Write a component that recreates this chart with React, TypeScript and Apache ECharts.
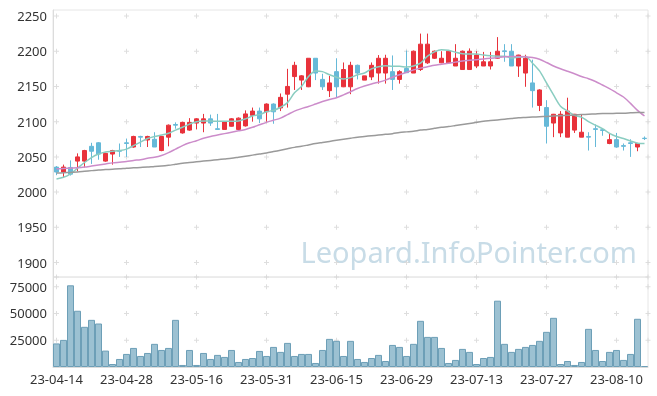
import React, { useEffect, useRef } from 'react';
import * as echarts from 'echarts';

const dates = [
  '23-04-14', '23-04-17', '23-04-18', '23-04-19', '23-04-20', '23-04-21', '23-04-24', '23-04-25', '23-04-26', '23-04-27',
  '23-04-28', '23-05-02', '23-05-03', '23-05-04', '23-05-08', '23-05-09', '23-05-10', '23-05-11', '23-05-12', '23-05-15',
  '23-05-16', '23-05-17', '23-05-18', '23-05-19', '23-05-22', '23-05-23', '23-05-24', '23-05-25', '23-05-26', '23-05-30',
  '23-05-31', '23-06-01', '23-06-02', '23-06-05', '23-06-07', '23-06-08', '23-06-09', '23-06-12', '23-06-13', '23-06-14',
  '23-06-15', '23-06-16', '23-06-19', '23-06-20', '23-06-21', '23-06-22', '23-06-23', '23-06-26', '23-06-27', '23-06-28',
  '23-06-29', '23-06-30', '23-07-03', '23-07-04', '23-07-05', '23-07-06', '23-07-07', '23-07-10', '23-07-11', '23-07-12',
  '23-07-13', '23-07-14', '23-07-17', '23-07-18', '23-07-19', '23-07-20', '23-07-21', '23-07-24', '23-07-25', '23-07-26',
  '23-07-27', '23-07-28', '23-07-31', '23-08-01', '23-08-02', '23-08-03', '23-08-04', '23-08-07', '23-08-08', '23-08-09',
  '23-08-10', '23-08-11', '23-08-14', '23-08-16', '23-08-17',
];

const opens = [
  2035.5, 2028.5, 2035, 2044, 2044, 2065, 2070, 2044, 2054, 2059,
  2070, 2064, 2079, 2074, 2075, 2059, 2078, 2096, 2084, 2088,
  2098, 2098, 2104, 2090, 2089, 2093.5, 2089, 2094, 2109, 2115,
  2114, 2125, 2119.5, 2139, 2164, 2159, 2149.5, 2190, 2160, 2144,
  2171, 2149.5, 2149.5, 2180, 2159, 2163.5, 2169, 2169, 2171, 2160,
  2175.5, 2169, 2174, 2183.5, 2190, 2183.5, 2183.5, 2179, 2174, 2174,
  2179, 2179, 2179, 2190, 2200.5, 2200, 2179, 2169, 2155, 2123,
  2120, 2098, 2084, 2078, 2088, 2078, 2079, 2090, 2088.5, 2069,
  2074.5, 2066, 2070, 2064, 2076.5,
];
const closes = [
  2028.5, 2035.5, 2025.5, 2050, 2059, 2058, 2054, 2055, 2059, 2058,
  2069, 2079, 2078, 2079, 2064, 2079, 2095, 2095, 2099, 2099,
  2104, 2104, 2098, 2089, 2099.5, 2104, 2105, 2111, 2115, 2104,
  2125, 2114, 2134.5, 2150, 2180, 2165, 2190, 2169, 2149.5, 2155,
  2149.5, 2174, 2180, 2169, 2165, 2180, 2190, 2190, 2160, 2171,
  2169.5, 2200, 2210, 2210, 2200, 2190, 2200, 2190, 2200, 2200,
  2194.5, 2185, 2185, 2200, 2199.5, 2179, 2194.5, 2190, 2144, 2145,
  2093.5, 2110.5, 2110.5, 2115, 2110.5, 2085, 2078, 2089, 2087.5, 2074.5,
  2064, 2065, 2069, 2069, 2076,
];
const lows = [
  2024, 2020, 2023.5, 2029.5, 2035, 2040, 2046, 2043, 2039, 2050,
  2050, 2063, 2064, 2064, 2064, 2058, 2065, 2090, 2083, 2087,
  2089, 2085, 2094, 2089, 2089, 2093, 2088, 2093, 2100, 2098,
  2100, 2097, 2115, 2120, 2145, 2145, 2149, 2159, 2145, 2135,
  2134, 2149, 2139, 2160, 2159, 2159, 2154, 2154, 2145, 2154,
  2169, 2169, 2172, 2182, 2189, 2183, 2183, 2179, 2174, 2174,
  2176, 2179, 2174, 2189, 2185, 2179, 2163.5, 2149.5, 2120, 2115,
  2069, 2078, 2078, 2078, 2084, 2078, 2059, 2064, 2080, 2068,
  2063, 2059, 2050, 2058, 2074,
];
const highs = [
  2037, 2039, 2045, 2055, 2060, 2070, 2071, 2056, 2060, 2069,
  2076, 2080, 2080, 2080, 2085, 2080, 2096, 2099, 2100, 2105,
  2105, 2111, 2110, 2111, 2100, 2105, 2106, 2116, 2120, 2120,
  2126, 2126, 2140, 2175, 2185, 2166, 2190, 2190, 2168, 2165,
  2190, 2184, 2185, 2181, 2165, 2184, 2194.5, 2195, 2194, 2173,
  2201, 2201, 2225, 2225, 2201, 2200, 2201, 2210, 2201, 2204,
  2200, 2199, 2199, 2220, 2210, 2210, 2195, 2195, 2188, 2146,
  2130.5, 2111, 2115, 2134, 2111, 2110.5, 2085, 2096, 2091, 2084,
  2084, 2069, 2075, 2070, 2079,
];

const ma5 = [
  2018.5, 2021, 2026, 2034, 2042, 2049, 2054, 2057, 2058, 2059,
  2061, 2066, 2071, 2076, 2079, 2081, 2083.5, 2088, 2092, 2096.5,
  2100, 2101, 2101, 2100.5, 2100.5, 2100.5, 2101, 2104, 2108, 2110,
  2114, 2116, 2120.5, 2127, 2141, 2150, 2164, 2172, 2171, 2166.5,
  2163, 2160.5, 2162.5, 2166.5, 2169, 2175, 2178, 2179.5, 2178.5, 2178.5,
  2177.5, 2179, 2183, 2193, 2199, 2202, 2201.5, 2198.5, 2196.5, 2196,
  2196, 2194.5, 2193.5, 2193, 2193, 2190.5, 2191.5, 2192.5, 2183, 2172,
  2155, 2138, 2122, 2115, 2109, 2106.5, 2100, 2095, 2090, 2083.5,
  2079, 2076, 2072.5, 2069.5, 2069,
];
const ma20 = [
  2033, 2033.5, 2034, 2034.5, 2035.5, 2037, 2038.5, 2040, 2041.5, 2042.5,
  2043.5, 2045, 2046, 2048, 2049.5, 2052, 2056, 2061, 2066, 2070,
  2073, 2076.5, 2079, 2081, 2083, 2085, 2087, 2089, 2092, 2095.5,
  2099, 2102, 2105, 2110, 2115, 2118.5, 2121.5, 2125, 2128.5, 2131.5,
  2134, 2138, 2142.5, 2147, 2150.5, 2153.5, 2156, 2159, 2163, 2166.5,
  2170, 2173.5, 2176, 2178, 2180, 2181.5, 2183, 2184.5, 2186, 2187,
  2188, 2189, 2190, 2191, 2192, 2192.5, 2192.5, 2192, 2191, 2188.5,
  2184, 2179, 2175, 2171.5, 2168, 2164, 2161, 2157, 2152, 2147,
  2141, 2135, 2126, 2116, 2108,
];
const ma60 = [
  2027, 2027.5, 2028, 2028.5, 2029.5, 2030.5, 2031.5, 2032, 2032.5, 2033,
  2034, 2034.5, 2035, 2035.5, 2036.5, 2037, 2038, 2039.5, 2041, 2042,
  2043, 2044, 2045, 2046, 2047, 2048, 2049.5, 2051, 2052.5, 2054,
  2055.5, 2057.5, 2059.5, 2061.5, 2063.5, 2065, 2067, 2069, 2070.5, 2072,
  2073.5, 2075, 2076.5, 2078, 2079, 2080, 2081, 2082, 2083, 2084.5,
  2085.5, 2086.5, 2088, 2089, 2090.5, 2092, 2093, 2094.5, 2096, 2097.5,
  2099, 2100.5, 2101.5, 2102.5, 2103.5, 2104.5, 2105.5, 2106, 2106.5, 2107,
  2107.5, 2108, 2108.5, 2109, 2109.5, 2110, 2110.5, 2111, 2111.5, 2111.5,
  2112, 2112, 2112.5, 2113, 2113,
];

const volumes = [
  22000, 25300, 76250, 52500, 37500, 44000, 40600, 15300, 2800, 7500,
  12200, 17800, 10300, 13100, 21600, 15900, 17800, 44000, 1900, 15900,
  1900, 13100, 7500, 11300, 9400, 15900, 4700, 7500, 8400, 15000,
  10300, 18750, 14100, 22500, 10300, 12200, 12200, 3750, 15900, 26250,
  24400, 10300, 24400, 7500, 4700, 8400, 11300, 5600, 20600, 18750,
  10300, 21600, 43100, 28100, 28100, 17800, 3750, 6600, 16900, 14100,
  2800, 8400, 9400, 61900, 21600, 14100, 16900, 18750, 20600, 24400,
  32800, 45900, 2800, 5600, 1900, 4700, 35600, 15900, 5600, 14100,
  15900, 6600, 12200, 45000, 900,
];

// axis extents and tick values
const priceMin = 1879.5;
const priceMax = 2258.5;
const priceTicks = [1900, 1950, 2000, 2050, 2100, 2150, 2200, 2250];
const volMax = 84000;
const volTicks = [25000, 50000, 75000, 84000];
// cross marks positions in category-index space (centers of labelled categories, plus right edge)
const crossCols = [0.5, 10.5, 20.5, 30.5, 40.5, 50.5, 60.5, 70.5, 80.5, 85];

const FONT = '"Noto Sans", "Open Sans", sans-serif';

export default function App() {
  const ref = useRef<HTMLDivElement>(null);
  useEffect(() => {
    if (!ref.current) return;
    const chart = echarts.init(ref.current, null, { renderer: 'svg' });
    const candleData = dates.map((_, i) => [opens[i], closes[i], lows[i], highs[i]]);
    const crossUpper: number[][] = [];
    crossCols.forEach((c) => priceTicks.forEach((t) => crossUpper.push([c, t])));
    const crossLower: number[][] = [];
    crossCols.forEach((c) => volTicks.forEach((t) => crossLower.push([c, t])));
    const crossSymbol = 'path://M2,0H3V5H2ZM0,2H5V3H0Z';
    const n = dates.length;
    const plain = (v: number) => String(v);

    chart.setOption({
      animation: false,
      textStyle: { fontFamily: FONT },
      grid: [
        { left: 53, right: 9, top: 10, height: 267, show: true, borderColor: '#e6e6e6', borderWidth: 1, backgroundColor: 'transparent' },
        { left: 53, right: 9, top: 277, height: 90, show: true, borderColor: '#e6e6e6', borderWidth: 1, backgroundColor: 'transparent' },
      ],
      graphic: [
        {
          type: 'text',
          z: 0,
          silent: true,
          x: 637,
          y: 251,
          style: {
            text: 'Leopard.InfoPointer.com',
            fontSize: 29,
            fontFamily: FONT,
            fill: '#c8dce7',
            align: 'right',
            verticalAlign: 'middle',
          },
        },
      ],
      xAxis: [
        {
          type: 'category', gridIndex: 0, data: dates, boundaryGap: true,
          axisLabel: { show: false }, axisTick: { show: false }, axisLine: { show: false }, splitLine: { show: false },
        },
        {
          type: 'category', gridIndex: 1, data: dates, boundaryGap: true,
          axisLabel: { interval: 9, fontSize: 13, color: '#333', margin: 5, fontFamily: FONT },
          axisTick: { show: false },
          axisLine: { show: true, lineStyle: { color: '#dcdcdc' } },
          splitLine: { show: false },
        },
        { type: 'value', gridIndex: 0, min: 0, max: n, show: false },
        { type: 'value', gridIndex: 1, min: 0, max: n, show: false },
      ],
      yAxis: [
        {
          type: 'value', gridIndex: 0, min: priceMin, max: priceMax, splitNumber: 8, scale: true,
          axisLabel: { fontSize: 13, color: '#333', margin: 6, showMinLabel: false, showMaxLabel: false, fontFamily: FONT, formatter: plain },
          axisTick: { show: false },
          axisLine: { show: true, lineStyle: { color: '#dcdcdc' } },
          splitLine: { show: false },
        },
        {
          type: 'value', gridIndex: 1, min: 0, max: volMax, interval: 25000,
          axisLabel: { fontSize: 13, color: '#333', margin: 6, showMinLabel: false, showMaxLabel: false, fontFamily: FONT, formatter: plain },
          axisTick: { show: false },
          axisLine: { show: true, lineStyle: { color: '#dcdcdc' } },
          splitLine: { show: false },
        },
      ],
      series: [
        {
          type: 'scatter', xAxisIndex: 2, yAxisIndex: 0, data: crossUpper, symbol: crossSymbol, symbolSize: 5,
          itemStyle: { color: '#d6d6d6' }, silent: true, z: 1,
        },
        {
          type: 'scatter', xAxisIndex: 3, yAxisIndex: 1, data: crossLower, symbol: crossSymbol, symbolSize: 5,
          itemStyle: { color: '#d6d6d6' }, silent: true, z: 1,
        },
        {
          type: 'candlestick', name: 'price', xAxisIndex: 0, yAxisIndex: 0, data: candleData, barWidth: '62%',
          itemStyle: { color: '#e8323b', color0: '#66b9d8', borderColor: '#e8323b', borderColor0: '#66b9d8', borderWidth: 1 },
          z: 3,
        },
        {
          type: 'line', name: 'MA5', xAxisIndex: 0, yAxisIndex: 0, data: ma5, symbol: 'none', smooth: 0.3,
          lineStyle: { color: '#8acdc1', width: 1.5 }, z: 4,
        },
        {
          type: 'line', name: 'MA20', xAxisIndex: 0, yAxisIndex: 0, data: ma20, symbol: 'none', smooth: 0.3,
          lineStyle: { color: '#cc8cca', width: 1.5 }, z: 4,
        },
        {
          type: 'line', name: 'MA60', xAxisIndex: 0, yAxisIndex: 0, data: ma60, symbol: 'none', smooth: 0.3,
          lineStyle: { color: '#9a9a9a', width: 1.5 }, z: 4,
        },
        {
          type: 'bar', name: 'volume', xAxisIndex: 1, yAxisIndex: 1, data: volumes, barCategoryGap: '0%',
          itemStyle: { color: '#9cc1d2', borderColor: '#6d9fb7', borderWidth: 1 },
          z: 3,
        },
      ],
    });
    return () => chart.dispose();
  }, []);
  return <div ref={ref} style={{ position: 'fixed', left: 0, top: 0, width: 657, height: 396 }} />;
}
